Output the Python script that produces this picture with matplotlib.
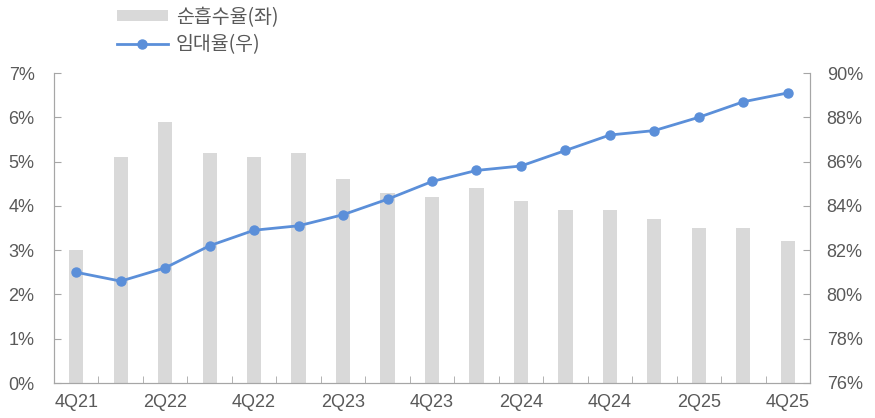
import matplotlib
matplotlib.use("Agg")
import matplotlib.pyplot as plt
from matplotlib.ticker import FixedLocator, FuncFormatter
import numpy as np

plt.rcParams['font.family'] = ['Liberation Sans', 'Noto Sans CJK KR', 'DejaVu Sans']

quarters = ["4Q21", "1Q22", "2Q22", "3Q22", "4Q22", "1Q23", "2Q23", "3Q23", "4Q23",
            "1Q24", "2Q24", "3Q24", "4Q24", "1Q25", "2Q25", "3Q25", "4Q25"]
net_absorption = [3.0, 5.1, 5.9, 5.2, 5.1, 5.2, 4.6, 4.3, 4.2,
                  4.4, 4.1, 3.9, 3.9, 3.7, 3.5, 3.5, 3.2]
occupancy = [81.0, 80.6, 81.2, 82.2, 82.9, 83.1, 83.6, 84.3, 85.1,
             85.6, 85.8, 86.5, 87.2, 87.4, 88.0, 88.7, 89.1]

bar_color = "#D9D9D9"
line_color = "#5B8FD9"
text_color = "#595959"
spine_color = "#A6A6A6"

fig = plt.figure(figsize=(8.75, 4.18), dpi=100)
ax = fig.add_axes([54/875, 35/418, (810-54)/875, (383-73)/418])
ax2 = ax.twinx()

x = np.arange(len(quarters))
bars = ax.bar(x, net_absorption, width=0.32, color=bar_color, label="순흡수율(좌)", zorder=1)
line, = ax2.plot(x, occupancy, color=line_color, lw=2, marker="o", markersize=6.5,
                 label="임대율(우)", zorder=3)

ax.set_xlim(-0.5, len(quarters) - 0.5)
ax.set_ylim(0, 7)
ax2.set_ylim(76, 90)
ax.set_yticks(np.arange(0, 8, 1))
ax2.set_yticks(np.arange(76, 91, 2))
ax.yaxis.set_major_formatter(FuncFormatter(lambda v, p: f"{v:.0f}%"))
ax2.yaxis.set_major_formatter(FuncFormatter(lambda v, p: f"{v:.0f}%"))

# category labels every other quarter, boundary ticks between quarters
ax.set_xticks(x[::2])
ax.set_xticklabels(quarters[::2])
ax.xaxis.set_minor_locator(FixedLocator(np.arange(-0.5, len(quarters) + 0.5, 1)))
ax.tick_params(axis="x", which="major", length=0, pad=8, labelsize=13, labelcolor=text_color)
ax.tick_params(axis="x", which="minor", direction="in", length=5, color=spine_color)
ax.tick_params(axis="y", direction="in", length=5, color=spine_color, labelsize=13,
               labelcolor=text_color, pad=14)
ax2.tick_params(axis="y", direction="in", length=5, color=spine_color, labelsize=13,
                labelcolor=text_color, pad=12)

for a in (ax, ax2):
    a.spines["top"].set_visible(False)
    for s in ("left", "right", "bottom"):
        a.spines[s].set_color(spine_color)
ax2.patch.set_visible(False)

fig.legend(handles=[bars, line], loc="upper left", bbox_to_anchor=(105/875, 1.012),
           frameon=False, prop={"family": ["Noto Sans CJK KR", "DejaVu Sans"], "size": 14},
           labelcolor=text_color, handlelength=2.65, handleheight=0.45,
           labelspacing=0.32, handletextpad=0.4, borderaxespad=0.2)

fig.savefig("out.png", dpi=100)
